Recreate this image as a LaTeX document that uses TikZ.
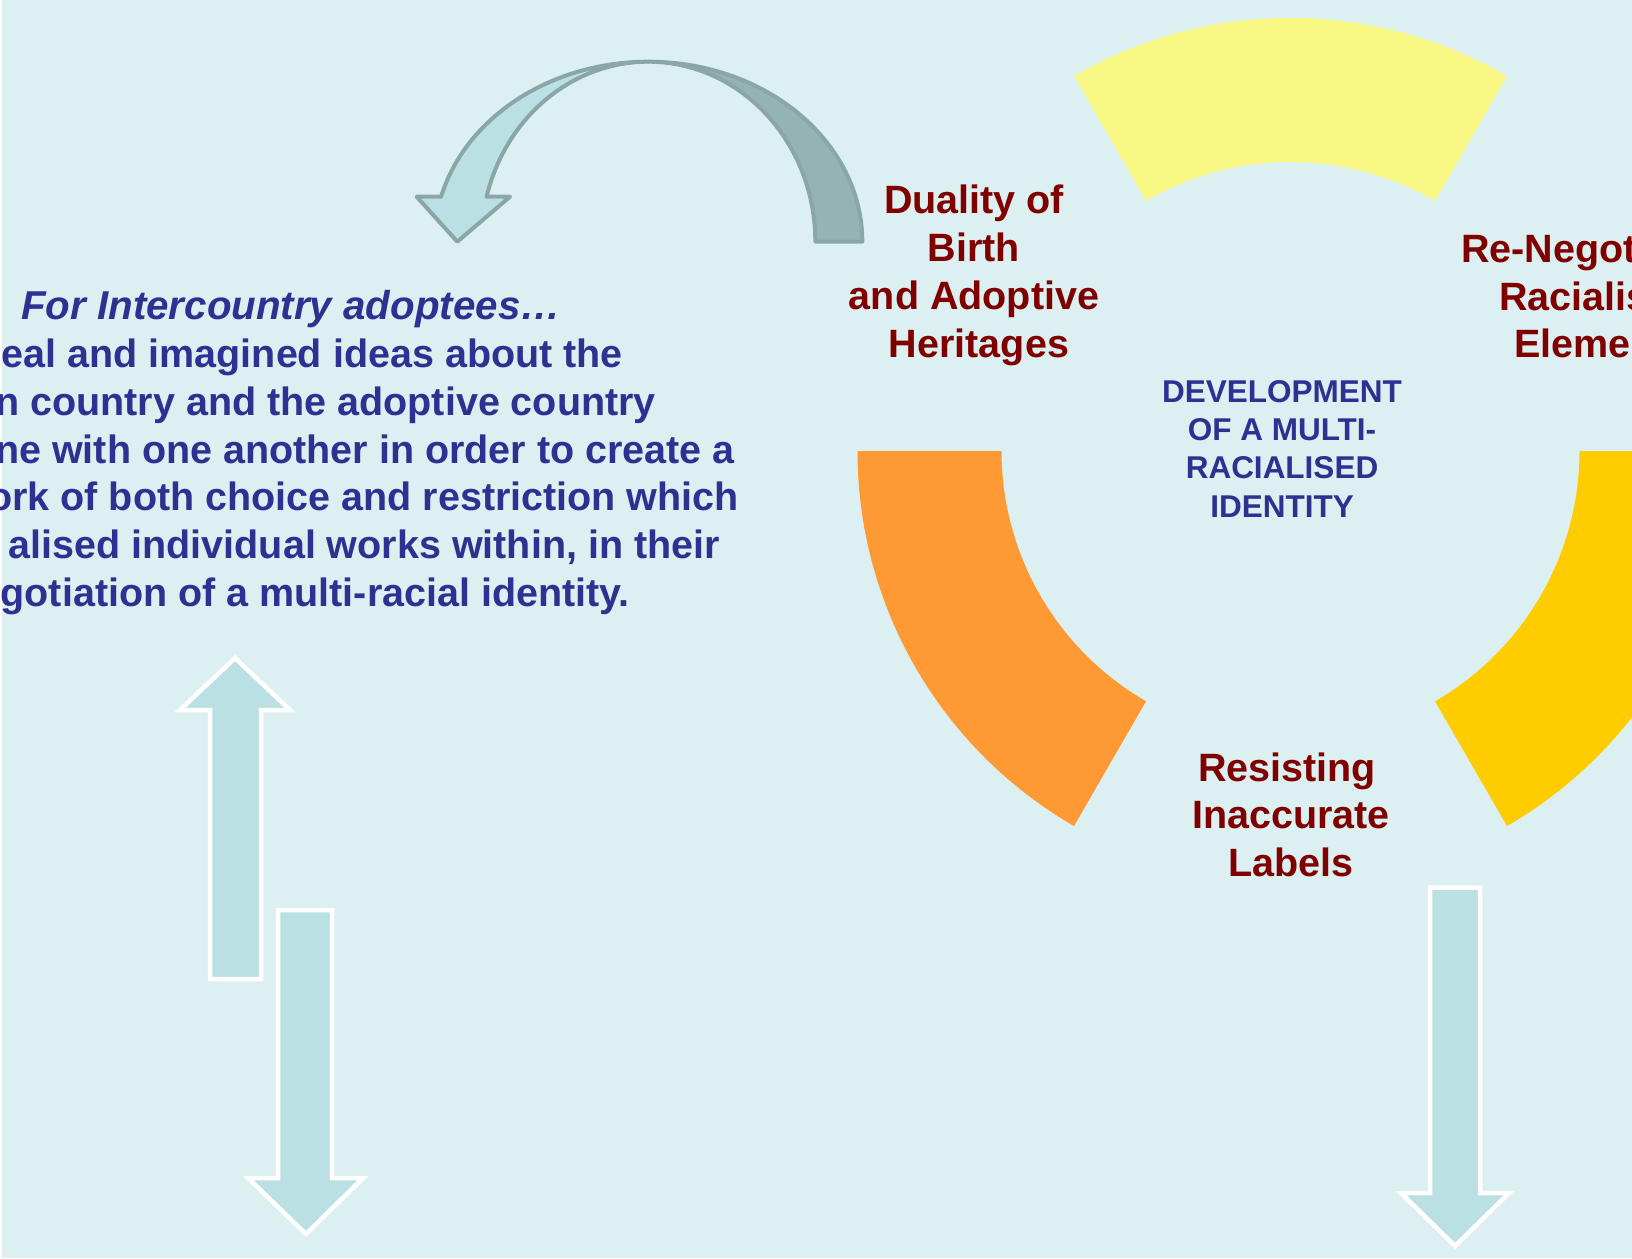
\documentclass[tikz,border=0pt]{standalone}
\usepackage{fontspec}
\setmainfont{Liberation Sans}
\usetikzlibrary{calc}
\definecolor{bg}{RGB}{220,239,241}
\definecolor{arrowfill}{RGB}{187,224,227}
\definecolor{curvedark}{RGB}{149,179,179}
\definecolor{curveline}{RGB}{138,166,167}
\definecolor{segyellow}{RGB}{248,247,132}
\definecolor{segorange}{RGB}{255,153,51}
\definecolor{seggold}{RGB}{255,204,0}
\definecolor{labred}{RGB}{128,0,0}
\definecolor{txtblue}{RGB}{46,49,146}
\begin{document}
\begin{tikzpicture}[x=1pt,y=-1pt,
  blockarrow/.style={fill=arrowfill,draw=white,line width=4.5pt,line join=miter},
  curvelight/.style={fill=arrowfill,draw=curveline,line width=4pt,line join=round},
  curvedk/.style={fill=curvedark,draw=curveline,line width=4pt,line join=round},
  redlabel/.style={text=labred,font=\bfseries\fontsize{39.5}{48}\selectfont,inner sep=0pt,anchor=base},
  redlabelw/.style={redlabel,anchor=base west},
  paraline/.style={text=txtblue,font=\bfseries\fontsize{39.5}{48}\selectfont,inner sep=0pt,anchor=base east},
  parahead/.style={text=txtblue,font=\bfseries\itshape\fontsize{40.3}{48}\selectfont,inner sep=0pt,anchor=base},
  centretext/.style={text=txtblue,font=\bfseries\fontsize{31.5}{38}\selectfont,inner sep=0pt,anchor=base}
]
\useasboundingbox (0,0) rectangle (1632,1258);
\clip (0,0) rectangle (1632,1258);
\fill[bg] (0,0) rectangle (1632,1258);
\fill[white] (0,0) rectangle (2,1258);

% ring segments
\coordinate (ringc) at (1290.5,451);
\fill[segyellow] ($(ringc)+(240:433)$) arc[start angle=240,end angle=300,radius=433]
  -- ($(ringc)+(300:289)$) arc[start angle=300,end angle=240,radius=289] -- cycle;
\fill[segorange] ($(ringc)+(120:433)$) arc[start angle=120,end angle=180,radius=433]
  -- ($(ringc)+(180:289)$) arc[start angle=180,end angle=120,radius=289] -- cycle;
\fill[seggold] ($(ringc)+(0:433)$) arc[start angle=0,end angle=60,radius=433]
  -- ($(ringc)+(60:289)$) arc[start angle=60,end angle=0,radius=289] -- cycle;

% curved arrow
\draw[curvedk] (648.3,61.7) arc[start angle=270,end angle=360,x radius=214,y radius=180]
  -- (815.3,241.7) arc[start angle=360,end angle=270,x radius=167,y radius=180] -- cycle;
\draw[curvelight] (441.1,196.7) -- (416.7,196.7) -- (457.3,241.7) -- (510,196.7) -- (486.6,196.7)
  arc[start angle=194.48,end angle=270,x radius=167,y radius=180]
  arc[start angle=270,end angle=194.48,x radius=214,y radius=180] -- cycle;

% block arrows
\draw[blockarrow] (235,658) -- (290,710) -- (261,710) -- (261,979) -- (210,979) -- (210,710) -- (180,710) -- cycle;
\draw[blockarrow] (278,910) -- (332,910) -- (332,1178) -- (363,1178) -- (306,1234) -- (248,1178) -- (278,1178) -- cycle;
\draw[blockarrow] (1430,887.5) -- (1480,887.5) -- (1480,1193) -- (1509,1193) -- (1455,1246) -- (1401,1193) -- (1430,1193) -- cycle;

% paragraph
\node[parahead] (ph) at (291,319) {For Intercountry adoptees…};
\node[paraline] (p1) at (623,367) {eal and imagined ideas about the};
\node[paraline] (p2) at (656,415) {n country and the adoptive country};
\node[paraline] (p3) at (735,463) {ne with one another in order to create a};
\node[paraline] (p4) at (739,510.5) {ork of both choice and restriction which};
\node[paraline] (p5) at (720,558) {alised individual works within, in their};
\node[paraline] (p6) at (630,606) {gotiation of a multi-racial identity.};

% red labels
\node[redlabel] (d1) at (974,213) {Duality of};
\node[redlabel] (d2) at (974,261) {Birth};
\node[redlabel] (d3) at (974,309) {and Adoptive};
\node[redlabel] (d4) at (979,357) {Heritages};
\node[redlabelw] (r1) at (1461,262) {Re-Negot};
\node[redlabelw] (r2) at (1499,310) {Racialis};
\node[redlabelw] (r3) at (1514,357) {Eleme};
\node[redlabel] (l1) at (1287,781) {Resisting};
\node[redlabel] (l2) at (1291,828) {Inaccurate};
\node[redlabel] (l3) at (1291,876) {Labels};

% centre text
\node[centretext] (c1) at (1282,402) {DEVELOPMENT};
\node[centretext] (c2) at (1282,440) {OF A MULTI-};
\node[centretext] (c3) at (1282,478) {RACIALISED};
\node[centretext] (c4) at (1282,517) {IDENTITY};
\end{tikzpicture}
\end{document}
